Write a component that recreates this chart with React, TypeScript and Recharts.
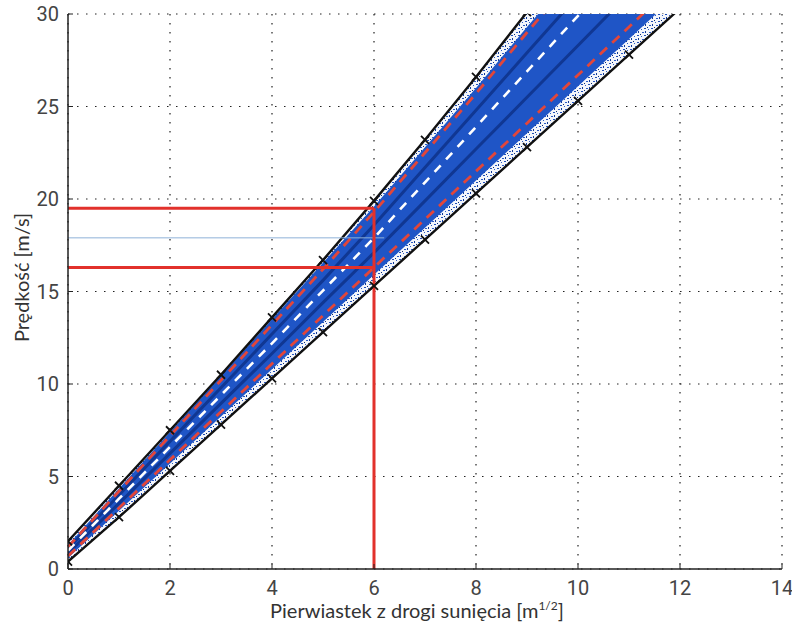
import {
  Area,
  CartesianGrid,
  ComposedChart,
  Label,
  Line,
  ReferenceLine,
  XAxis,
  YAxis,
} from "recharts";

// sqrt of skid distance [m^1/2]
const xs = [0, 1, 2, 3, 4, 5, 6, 7, 8, 9, 10, 11, 12];
// outer envelopes (black, with x markers)
const upBlack = [1.5, 4.5, 7.5, 10.5, 13.6, 16.7, 19.9, 23.2, 26.6, 30.1, 33.6, 37.1, 40.6];
const lowBlack = [0.4, 2.8, 5.3, 7.8, 10.3, 12.8, 15.3, 17.8, 20.3, 22.8, 25.3, 27.8, 30.3];
// dense part of the cloud
const solidUp = [1.3, 4.35, 7.4, 10.45, 13.5, 16.55, 19.6, 22.8, 26.0, 29.3, 32.5, 35.7, 38.9];
const solidLow = [0.6, 3.15, 5.7, 8.25, 10.8, 13.35, 15.9, 18.45, 21.0, 23.55, 26.1, 28.65, 31.2];
// red dashed bounds
const upRed = [1.2, 4.2, 7.2, 10.2, 13.2, 16.2, 19.3, 22.5, 25.7, 29.0, 32.2, 35.4, 38.6];
const lowRed = [0.7, 3.3, 5.9, 8.5, 11.1, 13.7, 16.3, 18.9, 21.5, 24.1, 26.7, 29.3, 31.9];
// white dashed mean
const center = [1.0, 3.8, 6.6, 9.4, 12.2, 15.05, 17.9, 20.9, 23.9, 26.9, 29.9, 32.9, 35.9];
// darker stripes inside the blue cloud
const stripeUp = [1.1, 4.0, 6.9, 9.8, 12.7, 15.6, 18.6, 21.7, 24.8, 27.9, 31.0, 34.1, 37.2];
const stripeLow = [0.85, 3.55, 6.25, 8.95, 11.65, 14.4, 17.1, 19.9, 22.7, 25.5, 28.3, 31.1, 33.9];

const xTicks = [0, 2, 4, 6, 8, 10, 12, 14];
const yTicks = [0, 5, 10, 15, 20, 25, 30];

// readout lines
const markX = 6;
const upperMark = 19.5;
const lowerMark = 16.3;
const centerMark = 17.9;
const centerMarkEnd = 6.2;

const rows = xs.map((x, i) => ({
  x,
  upBlack: upBlack[i],
  lowBlack: lowBlack[i],
  solidUp: solidUp[i],
  solidLow: solidLow[i],
  upRed: upRed[i],
  lowRed: lowRed[i],
  center: center[i],
  stripeUp: stripeUp[i],
  stripeLow: stripeLow[i],
}));

const TICK_FONT = "Roboto, 'DejaVu Sans', sans-serif";
const TITLE_FONT = "Lato, 'Open Sans', sans-serif";

function Cross(props: any) {
  const { cx, cy } = props;
  if (cx == null || cy == null) return null;
  const s = 4;
  return (
    <path
      d={`M${cx - s},${cy - s}L${cx + s},${cy + s}M${cx - s},${cy + s}L${cx + s},${cy - s}`}
      stroke="#111"
      strokeWidth={1.8}
    />
  );
}

function YTick(props: any) {
  const { x, y, payload } = props;
  const ax = x + 9;
  return (
    <g>
      <line x1={ax} x2={ax + 5} y1={y} y2={y} stroke="#222" strokeWidth={1} />
      <text
        x={x}
        y={y}
        dy="0.36em"
        textAnchor="end"
        fontFamily={TICK_FONT}
        fontSize={20}
        fill="#444"
      >
        {payload.value}
      </text>
    </g>
  );
}

function XTick(props: any) {
  const { x, y, payload } = props;
  const ay = y - 8;
  return (
    <g>
      <line x1={x} x2={x} y1={ay} y2={ay - 5} stroke="#222" strokeWidth={1} />
      <text
        x={x}
        y={y}
        dy="0.92em"
        textAnchor="middle"
        fontFamily={TICK_FONT}
        fontSize={20}
        fill="#444"
      >
        {payload.value}
      </text>
    </g>
  );
}

export default function App() {
  return (
    <div style={{ position: "absolute", left: 0, top: 0, background: "#fff" }}>
      <ComposedChart
        width={792}
        height={627}
        data={rows}
        margin={{ top: 14, right: 10, bottom: 0, left: 0 }}
      >
        <defs>
          <pattern id="speckle" width="7" height="7" patternUnits="userSpaceOnUse">
            <rect width="7" height="7" fill="#f4f6fb" />
            <rect x="0" y="0" width="2" height="1" fill="#1f4fb8" />
            <rect x="4" y="1" width="1" height="1" fill="#2b5cc6" />
            <rect x="1" y="3" width="1" height="2" fill="#123a96" />
            <rect x="5" y="4" width="2" height="1" fill="#2a5ac4" />
            <rect x="3" y="6" width="1" height="1" fill="#0d2a70" />
          </pattern>
        </defs>
        <CartesianGrid
          stroke="#222"
          strokeDasharray="1.5 7.5"
          strokeWidth={1.2}
        />
        <XAxis
          type="number"
          dataKey="x"
          domain={[0, 14]}
          ticks={xTicks}
          allowDataOverflow
          height={58}
          tickSize={0}
          tickMargin={8}
          tickLine={false}
          axisLine={{ stroke: "#222", strokeWidth: 1.5 }}
          tick={(p: any) => <XTick {...p} />}
          interval={0}
        >
          <Label
            content={(p: any) => {
              const vb = p.viewBox;
              return (
                <text
                  x={vb.x + vb.width / 2 - 8}
                  y={vb.y + 49}
                  textAnchor="middle"
                  fontFamily={TITLE_FONT}
                  fontSize={20}
                  fill="#333"
                >
                  Pierwiastek z drogi sunięcia [m
                  <tspan fontSize={12} dy={-8}>
                    1/2
                  </tspan>
                  <tspan dy={8}>]</tspan>
                </text>
              );
            }}
          />
        </XAxis>
        <YAxis
          type="number"
          domain={[0, 30]}
          ticks={yTicks}
          allowDataOverflow
          width={68}
          tickSize={0}
          tickMargin={9}
          tickLine={false}
          axisLine={{ stroke: "#222", strokeWidth: 1.5 }}
          tick={(p: any) => <YTick {...p} />}
          interval={0}
        >
          <Label
            content={(p: any) => {
              const vb = p.viewBox;
              const cx = 21;
              const cy = vb.y + vb.height / 2 - 14;
              return (
                <text
                  x={cx}
                  y={cy}
                  transform={`rotate(-90 ${cx} ${cy})`}
                  textAnchor="middle"
                  dominantBaseline="central"
                  fontFamily={TITLE_FONT}
                  fontSize={20}
                  fill="#333"
                >
                  Prędkość [m/s]
                </text>
              );
            }}
          />
        </YAxis>

        <Area
          dataKey={(d: any) => [d.lowBlack, d.upBlack]}
          type="linear"
          stroke="none"
          fill="url(#speckle)"
          fillOpacity={1}
          isAnimationActive={false}
        />
        <Area
          dataKey={(d: any) => [d.solidLow, d.solidUp]}
          type="linear"
          stroke="none"
          fill="#1f55c6"
          fillOpacity={1}
          isAnimationActive={false}
        />
        <Line
          dataKey="stripeUp"
          type="linear"
          stroke="#0c2f86"
          strokeWidth={3}
          strokeOpacity={0.8}
          dot={false}
          isAnimationActive={false}
        />
        <Line
          dataKey="stripeLow"
          type="linear"
          stroke="#0c2f86"
          strokeWidth={3}
          strokeOpacity={0.8}
          dot={false}
          isAnimationActive={false}
        />
        <Line
          dataKey="upBlack"
          type="linear"
          stroke="#111"
          strokeWidth={2.4}
          dot={<Cross />}
          isAnimationActive={false}
        />
        <Line
          dataKey="lowBlack"
          type="linear"
          stroke="#111"
          strokeWidth={2.4}
          dot={<Cross />}
          isAnimationActive={false}
        />
        <Line
          dataKey="upRed"
          type="linear"
          stroke="#e2463a"
          strokeWidth={2.8}
          strokeDasharray="10 7"
          dot={false}
          isAnimationActive={false}
        />
        <Line
          dataKey="lowRed"
          type="linear"
          stroke="#e2463a"
          strokeWidth={2.8}
          strokeDasharray="10 7"
          dot={false}
          isAnimationActive={false}
        />
        <Line
          dataKey="center"
          type="linear"
          stroke="#ffffff"
          strokeWidth={2.6}
          strokeDasharray="9 8"
          dot={false}
          isAnimationActive={false}
        />

        <ReferenceLine
          segment={[
            { x: 0, y: centerMark },
            { x: centerMarkEnd, y: centerMark },
          ]}
          stroke="#8fb2d8"
          strokeWidth={1}
        />
        <ReferenceLine
          segment={[
            { x: 0, y: upperMark },
            { x: markX, y: upperMark },
          ]}
          stroke="#e2312b"
          strokeWidth={3}
        />
        <ReferenceLine
          segment={[
            { x: 0, y: lowerMark },
            { x: markX, y: lowerMark },
          ]}
          stroke="#e2312b"
          strokeWidth={3}
        />
        <ReferenceLine
          segment={[
            { x: markX, y: 0 },
            { x: markX, y: upperMark },
          ]}
          stroke="#e2312b"
          strokeWidth={3}
        />
      </ComposedChart>
    </div>
  );
}
